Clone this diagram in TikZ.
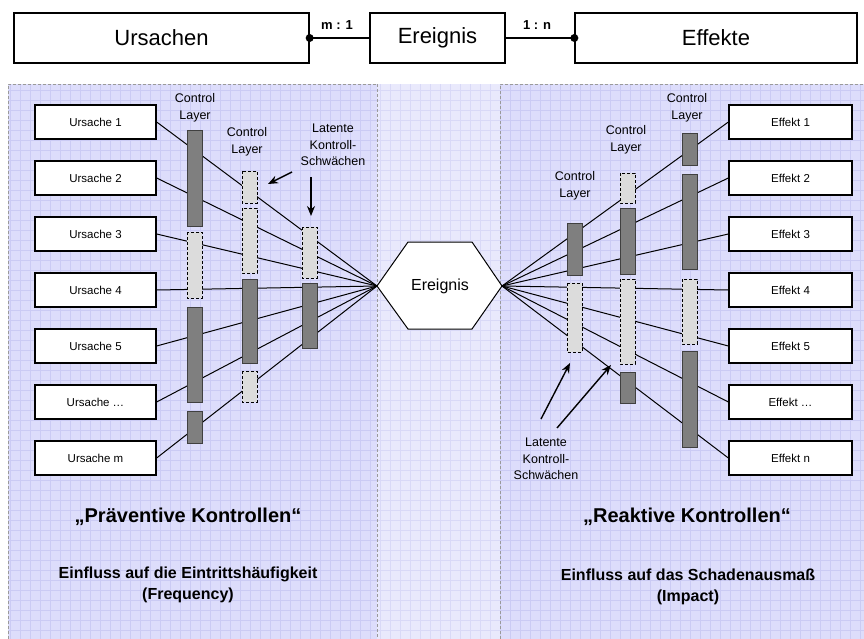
\documentclass[tikz,border=0pt]{standalone}
\usepackage{fontspec}
\setmainfont{Liberation Sans}
\usetikzlibrary{arrows.meta}
\definecolor{panelbg}{HTML}{DDDDFB}
\definecolor{midbg}{HTML}{E9E9FC}
\definecolor{gridc}{HTML}{CBCBF4}
\definecolor{gridm}{HTML}{D9D9F7}
\definecolor{darkbarc}{HTML}{7F7F7F}
\definecolor{lightbarc}{HTML}{DCDCDC}
\definecolor{borderc}{HTML}{9A9A9A}
\tikzset{
  topbox/.style={draw=black, line width=1.3pt, fill=white, minimum height=50pt, inner sep=0pt, font=\fontsize{22}{26}\selectfont},
  ubox/.style={draw=black, line width=1.3pt, fill=white, minimum width=121pt, minimum height=34pt, inner sep=0pt, font=\fontsize{11.5}{13}\selectfont},
  ebox/.style={draw=black, line width=1.3pt, fill=white, minimum width=123pt, minimum height=34pt, inner sep=0pt, font=\fontsize{11.5}{13}\selectfont},
  conn/.style={draw=black, line width=1pt},
  darkbar/.style={fill=darkbarc, draw=black!75, line width=0.8pt},
  weakbar/.style={fill=lightbarc, draw=black, line width=0.9pt, dash pattern=on 3pt off 2pt},
  lbl/.style={align=center, inner sep=0pt, font=\fontsize{12.5}{16.5}\selectfont},
  ratio/.style={inner sep=0pt, font=\bfseries\fontsize{13}{15}\selectfont},
  title/.style={inner sep=0pt, font=\bfseries\fontsize{20}{24}\selectfont},
  subtitle/.style={align=center, inner sep=0pt, font=\bfseries\fontsize{16}{21}\selectfont},
  pointer/.style={draw=black, line width=1.4pt, -{Stealth[length=10pt,width=8pt]}},
  panelborder/.style={draw=borderc, line width=0.8pt, dash pattern=on 3pt off 2pt}
}
\begin{document}
\begin{tikzpicture}[x=1pt,y=-1pt]
\useasboundingbox (0,0) rectangle (864,639);
\fill[white] (0,0) rectangle (864,639);
% panels
\fill[panelbg] (8,84) rectangle (377,639);
\fill[midbg] (377,84) rectangle (500,639);
\fill[panelbg] (500,84) rectangle (864,639);
\draw[gridc, line width=0.4pt, step=10pt] (8,84) grid (377,639);
\draw[gridm, line width=0.4pt, step=10pt] (377,84) grid (500,639);
\draw[gridc, line width=0.4pt, step=10pt] (500,84) grid (864,639);
\draw[panelborder] (8,639) -- (8,84) -- (377,84);
\draw[panelborder] (377,84) -- (377,639);
\draw[panelborder] (500,639) -- (500,84) -- (864,84);

% top row
\node[topbox, minimum width=295pt] (ursachen) at (161.5,38) {Ursachen};
\node[topbox, minimum width=135pt] (ereignisTop) at (437.5,38) {Ereignis};
\node[topbox, minimum width=282pt] (effekte) at (716,38) {Effekte};
\draw[conn, line width=1.3pt] (ursachen.east) -- (ereignisTop.west);
\draw[conn, line width=1.3pt] (ereignisTop.east) -- (effekte.west);
\fill (ursachen.east) circle (4pt);
\fill (effekte.west) circle (4pt);
\node[ratio] (r1) at (337,25) {m : 1};
\node[ratio] (r2) at (537,25) {1 : n};

% hexagon
\coordinate (hexL) at (377,286);
\coordinate (hexR) at (502,286);
\draw[fill=white, line width=1pt] (hexL) -- (408,242) -- (472,242) -- (hexR) -- (472,329) -- (408,329) -- cycle;
\node[inner sep=0pt, font=\fontsize{16}{19}\selectfont] (ereignis) at (440,286) {Ereignis};

% cause boxes
\node[ubox] (u1) at (95.5,122) {Ursache 1};
\node[ubox] (u2) at (95.5,178) {Ursache 2};
\node[ubox] (u3) at (95.5,234) {Ursache 3};
\node[ubox] (u4) at (95.5,290) {Ursache 4};
\node[ubox] (u5) at (95.5,346) {Ursache 5};
\node[ubox] (u6) at (95.5,402) {Ursache …};
\node[ubox] (u7) at (95.5,458) {Ursache m};
% effect boxes
\node[ebox] (e1) at (790.5,122) {Effekt 1};
\node[ebox] (e2) at (790.5,178) {Effekt 2};
\node[ebox] (e3) at (790.5,234) {Effekt 3};
\node[ebox] (e4) at (790.5,290) {Effekt 4};
\node[ebox] (e5) at (790.5,346) {Effekt 5};
\node[ebox] (e6) at (790.5,402) {Effekt …};
\node[ebox] (e7) at (790.5,458) {Effekt n};

% connectors
\foreach \i in {1,...,7} {
  \draw[conn] (u\i.east) -- (hexL);
  \draw[conn] (hexR) -- (e\i.west);
}

% left control layers
\draw[darkbar] (187,130) rectangle (202,226);
\draw[weakbar] (187,232) rectangle (202,298);
\draw[darkbar] (187,307) rectangle (202,402);
\draw[darkbar] (187,411) rectangle (202,443);
\draw[weakbar] (242,171) rectangle (257,203);
\draw[weakbar] (242,208) rectangle (257,273);
\draw[darkbar] (242,279) rectangle (257,363);
\draw[weakbar] (242,371) rectangle (257,402);
\draw[weakbar] (302,227) rectangle (317,278);
\draw[darkbar] (302,283) rectangle (317,348);
% right control layers
\draw[darkbar] (567,223) rectangle (582,275);
\draw[weakbar] (567,283) rectangle (582,352);
\draw[weakbar] (620,173) rectangle (635,203);
\draw[darkbar] (620,208) rectangle (635,274);
\draw[weakbar] (620,279) rectangle (635,364);
\draw[darkbar] (620,372) rectangle (635,403);
\draw[darkbar] (682,133) rectangle (697,165);
\draw[darkbar] (682,174) rectangle (697,269);
\draw[weakbar] (682,279) rectangle (697,344);
\draw[darkbar] (682,351) rectangle (697,447);

% labels
\node[lbl] (cl1) at (195,108) {Control\\Layer};
\node[lbl] (cl2) at (247,142) {Control\\Layer};
\node[lbl] (lk1) at (333,145) {Latente\\Kontroll-\\Schwächen};
\node[lbl] (cr3) at (687,108) {Control\\Layer};
\node[lbl] (cr2) at (626,140) {Control\\Layer};
\node[lbl] (cr1) at (575,186) {Control\\Layer};
\node[lbl] (lk2) at (546,459) {Latente\\Kontroll-\\Schwächen};

% pointers
\coordinate (pa1) at (292,172); \coordinate (pa2) at (268,184);
\coordinate (pb1) at (311,177); \coordinate (pb2) at (311,216);
\coordinate (pc1) at (541,419); \coordinate (pc2) at (570,363);
\coordinate (pd1) at (557,428); \coordinate (pd2) at (611,365);
\draw[pointer] (pa1) -- (pa2);
\draw[pointer] (pb1) -- (pb2);
\draw[pointer] (pc1) -- (pc2);
\draw[pointer] (pd1) -- (pd2);

% titles
\node[title] (t1) at (188,517) {„Präventive Kontrollen“};
\node[subtitle] (s1) at (188,585) {Einfluss auf die Eintrittshäufigkeit\\(Frequency)};
\node[title] (t2) at (687,517) {„Reaktive Kontrollen“};
\node[subtitle] (s2) at (688,587) {Einfluss auf das Schadenausmaß\\(Impact)};
\end{tikzpicture}
\end{document}
